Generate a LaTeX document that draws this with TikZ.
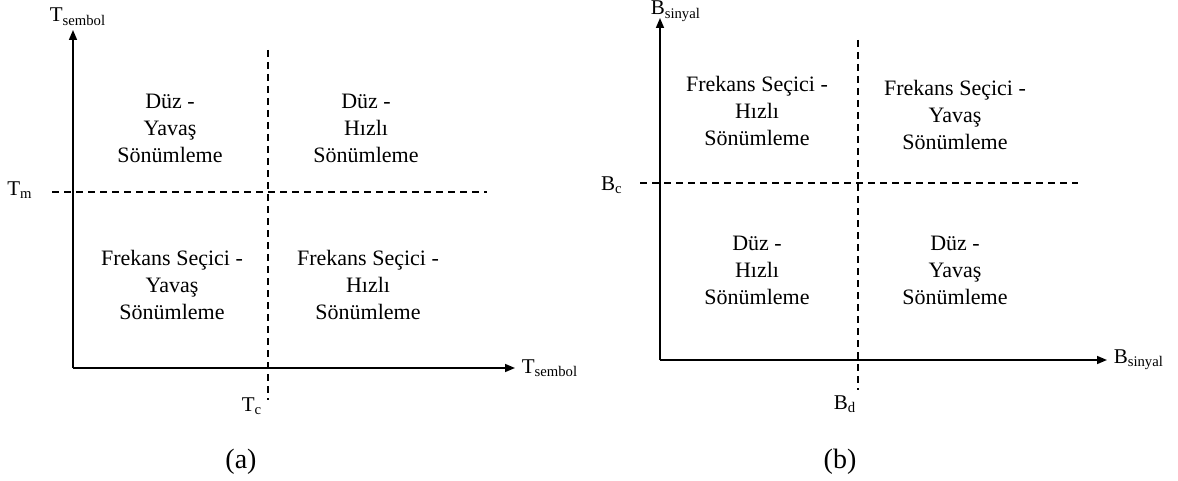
\documentclass[tikz,border=0pt]{standalone}
\usepackage{fontspec}
\setmainfont{Liberation Serif}
\usetikzlibrary{arrows.meta}

\tikzset{
    axis/.style={line width=0.8pt, -{Triangle[length=5pt, width=4pt]}},
    limit/.style={line width=0.8pt, dash pattern=on 3.5pt off 2.5pt},
    region/.style={align=center, font=\fontsize{11}{13.5}\selectfont},
    axlabel/.style={font=\fontsize{10.5}{12}\selectfont, inner sep=1pt},
    caption/.style={font=\fontsize{14}{16}\selectfont}
}

\begin{document}
\begin{tikzpicture}[x=0.5pt, y=-0.5pt]

\useasboundingbox (0,0) rectangle (1178,481);

% (a) symbol duration
\begin{scope}
    \coordinate (oa) at (73,368);
    \draw[axis] (oa) -- (73,30) coordinate (ya)
    node[axlabel, above right, xshift=-13pt, yshift=1pt] {T\textsubscript{sembol}};
    \draw[axis] (oa) -- (515,368) coordinate (xa)
    node[axlabel, right, xshift=2pt] {T\textsubscript{sembol}};

    \node[axlabel] (tm) at (20,190) {T\textsubscript{m}};
    \node[axlabel] (tc) at (252,406) {T\textsubscript{c}};
    \coordinate (tmr) at (487,192);
    \coordinate (tct) at (268,50);
    \draw[limit] (52,192) -- (tmr);
    \draw[limit] (tct) -- (268,400);

    \node[region] (a1) at (170,128) {Düz -\\Yavaş\\Sönümleme};
    \node[region] (a2) at (366,128) {Düz -\\Hızlı\\Sönümleme};
    \node[region] (a3) at (172,285) {Frekans Seçici -\\Yavaş\\Sönümleme};
    \node[region] (a4) at (368,285) {Frekans Seçici -\\Hızlı\\Sönümleme};

    \node[caption] (capa) at (241,462) {(a)};
\end{scope}

% (b) signal bandwidth
\begin{scope}
    \coordinate (ob) at (660,360);
    \draw[axis] (ob) -- (660,18) coordinate (yb)
    node[axlabel, above right, xshift=-6pt, yshift=-3pt] {B\textsubscript{sinyal}};
    \draw[axis] (ob) -- (1107,360) coordinate (xb)
    node[axlabel, right, xshift=2pt] {B\textsubscript{sinyal}};

    \node[axlabel] (bc) at (612,185) {B\textsubscript{c}};
    \node[axlabel] (bd) at (845,404) {B\textsubscript{d}};
    \coordinate (bcr) at (1078,183);
    \coordinate (bdt) at (858,40);
    \draw[limit] (640,183) -- (bcr);
    \draw[limit] (bdt) -- (858,390);

    \node[region] (b1) at (757,111) {Frekans Seçici -\\Hızlı\\Sönümleme};
    \node[region] (b2) at (955,115) {Frekans Seçici -\\Yavaş\\Sönümleme};
    \node[region] (b3) at (757,270) {Düz -\\Hızlı\\Sönümleme};
    \node[region] (b4) at (955,270) {Düz -\\Yavaş\\Sönümleme};

    \node[caption] (capb) at (840,462) {(b)};
\end{scope}

\end{tikzpicture}
\end{document}
